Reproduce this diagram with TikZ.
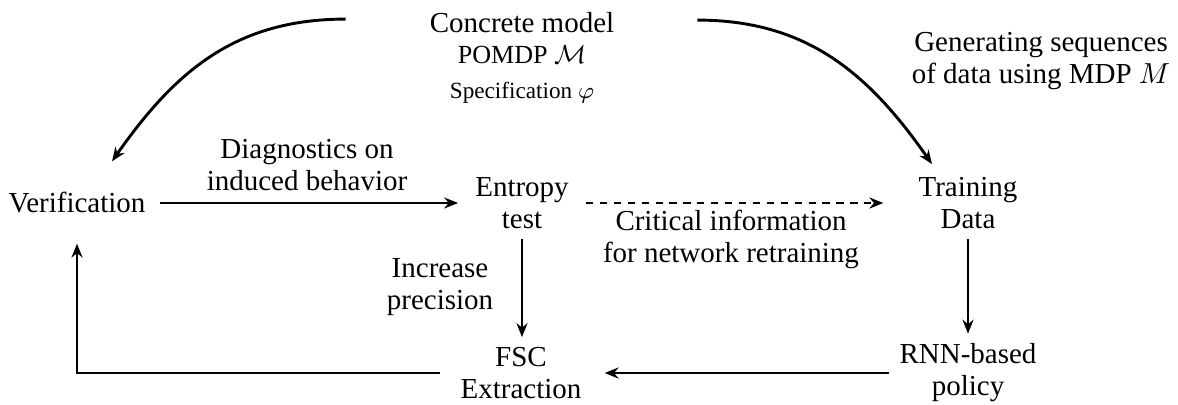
\documentclass[tikz,border=0pt]{standalone}
\usepackage{fontspec}
\setmainfont{Liberation Serif}
\usetikzlibrary{arrows.meta,calc}
\begin{document}
\begin{tikzpicture}[x=0.345pt,y=-0.345pt,
  box/.style={align=center,font=\fontsize{10pt}{11pt}\selectfont},
  conn/.style={line width=1pt,-{Stealth[length=4.8pt,width=3.8pt]}},
  dsh/.style={dash pattern=on 2.5pt off 2.3pt}]
\useasboundingbox (0,0) rectangle (1178,404);
% top source
\node[anchor=base] (concrete) at (522,32) {Concrete model};
\node[anchor=base,font=\small] (pomdp) at (522,63) {POMDP $\mathcal{M}$};
\node[anchor=base,font=\footnotesize] (spec) at (522,98) {Specification $\varphi$};
% main nodes
\node[box] (verif) at (77,203) {Verification};
\node[box] (entropy) at (522,203) {Entropy\\test};
\node[box] (training) at (968,203) {Training\\Data};
\node[box] (fsc) at (521,373) {FSC\\Extraction};
\node[box] (rnn) at (968,373) {RNN-based\\policy};
% labels
\node[box] (diag) at (307,165) {Diagnostics on\\induced behavior};
\node[box] (crit) at (731,239) {Critical information\\for network retraining};
\node[box] (incr) at (440,287) {Increase\\precision};
\node[box] (gen) at (1041,61) {Generating sequences\\of data using MDP $M$};
% connectors
\draw[conn] ($(concrete.west)+(-74,-3)$) .. controls +(-110,0) and +(63,-90) .. ($(verif.north)+(35,-21)$);
\draw[conn] ($(concrete.east)+(73,-2)$) .. controls +(110,0) and +(-63,-90) .. ($(training.north)+(-36,-3)$);
\draw[conn] ($(verif.east)+(4,0)$) -- ($(entropy.west)+(-7,0)$);
\draw[conn,dsh] ($(entropy.east)+(7,0)$) -- ($(training.west)+(-25,0)$);
\draw[conn] (entropy.south) -- (entropy.south |- fsc.north);
\draw[conn] (training.south) -- (rnn.north);
\draw[conn] (rnn.west) -- ($(fsc.east)+(13,0)$);
\draw[conn] ($(fsc.west)+(-10,0)$) -| ($(verif.south)+(0,20)$);
\end{tikzpicture}
\end{document}
